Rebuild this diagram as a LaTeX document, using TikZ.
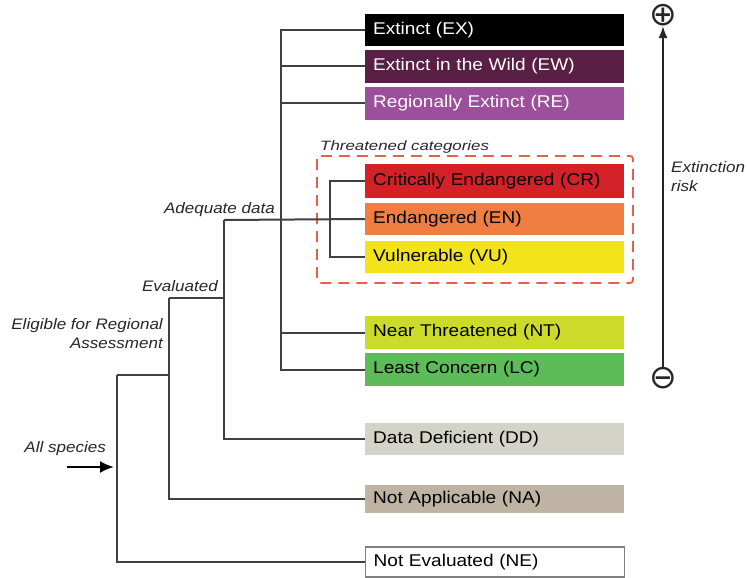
\documentclass[tikz,border=0pt]{standalone}
\usepackage{fontspec}
\usetikzlibrary{arrows.meta}
\setmainfont[FakeStretch=1.12]{Liberation Sans}
\newfontfamily\widefont[FakeStretch=1.25]{Liberation Sans}
\newfontfamily\symfont{DejaVu Sans}
\definecolor{cEX}{HTML}{000000}
\definecolor{cEW}{HTML}{5A1F45}
\definecolor{cRE}{HTML}{9C4F9A}
\definecolor{cCR}{HTML}{D42127}
\definecolor{cEN}{HTML}{F07E43}
\definecolor{cVU}{HTML}{F2E31A}
\definecolor{cNT}{HTML}{CCDB2A}
\definecolor{cLC}{HTML}{5DBB5A}
\definecolor{cDD}{HTML}{D3D3C8}
\definecolor{cNA}{HTML}{BFB3A3}
\definecolor{lineg}{HTML}{404040}
\definecolor{dashred}{HTML}{E8604C}
\tikzset{
  catbox/.style={rectangle, anchor=west, minimum width=259pt, text width=243pt,
    inner xsep=8pt, inner ysep=0pt, align=left, font=\fontsize{17}{20}\selectfont},
  branch/.style={draw=lineg, line width=2pt},
  lab/.style={font=\fontsize{15.2}{19}\selectfont\itshape, inner sep=0pt, text=black!85},
  pm/.style={font=\symfont\fontsize{33}{34}\selectfont, inner sep=0pt, text=black!85},
}
\begin{document}
\begin{tikzpicture}[x=1pt,y=-1pt]
\useasboundingbox (0,0) rectangle (748,578);
% boxes
\node[catbox, fill=cEX, text=white, minimum height=32pt] (ex) at (365,30) {Extinct (EX)};
\node[catbox, fill=cEW, text=white, minimum height=33pt] (ew) at (365,66.5) {Extinct in the Wild (EW)};
\node[catbox, fill=cRE, text=white, minimum height=33pt] (re) at (365,103.5) {Regionally Extinct (RE)};
\node[catbox, fill=cCR, minimum height=34pt] (cr) at (365,181) {Critically Endangered (CR)};
\node[catbox, fill=cEN, minimum height=32pt] (en) at (365,219) {Endangered (EN)};
\node[catbox, fill=cVU, minimum height=32pt] (vu) at (365,257) {Vulnerable (VU)};
\node[catbox, fill=cNT, minimum height=33pt] (nt) at (365,332.5) {Near Threatened (NT)};
\node[catbox, fill=cLC, minimum height=33pt] (lc) at (365,369.5) {Least Concern (LC)};
\node[catbox, fill=cDD, minimum height=32pt] (dd) at (365,439) {Data Deficient (DD)};
\node[catbox, fill=cNA, minimum height=28pt] (na) at (365,499) {Not Applicable (NA)};
\node[catbox, fill=white, draw=gray, line width=1.4pt, minimum height=30pt] (ne) at (365,562) {Not Evaluated (NE)};
% threatened frame
\draw[dashred, line width=1.8pt, dash pattern=on 11pt off 7pt, rounded corners=3pt] (317,156) rectangle (633,283);
\node[lab, font=\widefont\fontsize{13.5}{16}\selectfont\itshape, anchor=base west] (thr) at (320,150) {Threatened categories};
% tree
\coordinate (adq) at (224,220);
\coordinate (ev) at (169,298);
\coordinate (el) at (117,375);
\draw[branch] (ex.west) -- ++(-84,0) |- (lc.west);
\draw[branch] (ew.west) -- ++(-84,0);
\draw[branch] (re.west) -- ++(-84,0);
\draw[branch] (nt.west) -- ++(-84,0);
\draw[branch] (adq) -- (en.west);
\draw[branch] (cr.west) -- ++(-35,0) |- (vu.west);
\draw[branch] (adq) |- (dd.west);
\draw[branch] (ev) -| (adq);
\draw[branch] (ev) |- (na.west);
\draw[branch] (el) -| (ev);
\draw[branch] (el) |- (ne.west);
% labels
\node[lab, anchor=base east] (adql) at (275,213) {Adequate data};
\node[lab, anchor=base east, align=right] (evl) at (218,291) {Evaluated};
\node[lab, anchor=base east, align=right] (ell) at (163,348) {Eligible for Regional\\Assessment};
\node[lab, anchor=base east] (asl) at (106,452) {All species};
\coordinate (as0) at (67,467);
\coordinate (as1) at (114,467);
\draw[line width=2.2pt, -{Latex[length=14pt,width=12pt]}] (as0) -- (as1);
% extinction risk axis
\node[pm] (plus) at (663,15) {⊕};
\node[pm] (minus) at (663,378) {⊖};
\draw[line width=1.8pt, draw=black!85, -{Latex[length=12pt,width=9pt]}] (minus) -- (plus);
\node[lab, anchor=base west, align=left] (risk) at (671,191) {Extinction\\risk};
\end{tikzpicture}
\end{document}
